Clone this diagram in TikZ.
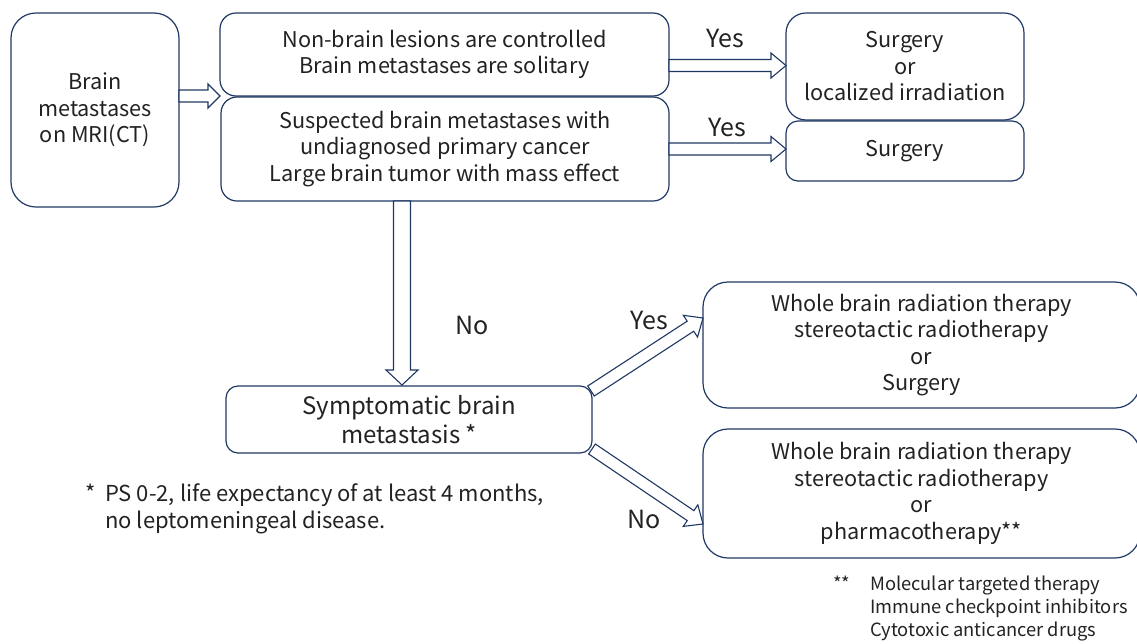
\documentclass[tikz,border=0pt]{standalone}
\usepackage{fontspec}
\setmainfont{Noto Sans CJK JP}
\usetikzlibrary{calc}
\definecolor{navy}{HTML}{1F3864}
\definecolor{txt}{HTML}{222222}
\newcommand\blockarrow[5]{%
  \coordinate (bah) at ($(#2)!#5pt!(#1)$);
  \draw[barrow] ($(#1)!#3pt!90:(#2)$) -- ($(bah)!#3pt!-90:(#1)$) -- ($(bah)!#4pt!-90:(#1)$) -- (#2)
     -- ($(bah)!#4pt!90:(#1)$) -- ($(bah)!#3pt!90:(#1)$) -- ($(#1)!#3pt!-90:(#2)$) -- cycle;}
\begin{document}
\begin{tikzpicture}[x=1pt,y=-1pt,
  box/.style={draw=navy, line width=1.2pt, rounded corners=#1, align=center, inner sep=0pt, outer sep=0pt,
    text=txt, font=\fontsize{21.7}{26.5}\selectfont},
  box/.default=16pt,
  barrow/.style={draw=navy, fill=white, line width=1.1pt, line join=miter},
  lbl/.style={text=txt, font=\fontsize{25}{28}\selectfont, inner sep=0pt},
  note/.style={text=txt, align=left, inner sep=0pt, anchor=west}]
\useasboundingbox (0,0) rectangle (1137,643);
% boxes
\node[box=25pt, minimum width=168pt, minimum height=194pt] (A) at (95,110) {Brain\\metastases\\on MRI(CT)};
\node[box=16pt, minimum width=449pt, minimum height=83pt] (B) at (444.5,54.5) {Non-brain lesions are controlled\\Brain metastases are solitary};
\node[box=16pt, minimum width=448pt, minimum height=104pt] (C) at (445,149) {Suspected brain metastases with\\undiagnosed primary cancer\\Large brain tumor with mass effect};
\node[box=20pt, minimum width=238pt, minimum height=107pt] (D) at (905,66.5) {Surgery\\or\\localized irradiation};
\node[box=12pt, minimum width=238pt, minimum height=60pt] (E) at (905,151) {Surgery};
\node[box=12pt, minimum width=366pt, minimum height=67pt, font=\fontsize{24}{29}\selectfont] (F) at (409,419.5) {Symptomatic brain\\metastasis *};
\node[box=25pt, minimum width=437pt, minimum height=126pt] (G) at (921.5,345) {Whole brain radiation therapy\\stereotactic radiotherapy\\or\\Surgery};
\node[box=25pt, minimum width=437pt, minimum height=129pt] (H) at (921.5,493.5) {Whole brain radiation therapy\\stereotactic radiotherapy\\or\\pharmacotherapy**};
% connector end points
\coordinate (ab1) at (A.east |- B.south);
\coordinate (ab2) at (B.south west);
\coordinate (bd1) at ($(B.east)+(0,11)$);
\coordinate (bd2) at (D.west |- bd1);
\coordinate (ce1) at (C.east);
\coordinate (ce2) at (E.west |- C.east);
\coordinate (cf1) at ($(C.south)+(-43,0)$);
\coordinate (cf2) at ($(F.north -| cf1)+(0,-1)$);
\coordinate (fg1) at ($(F.north east)+(-1,5)$);
\coordinate (fg2) at ($(G.west)+(0,-27)$);
\coordinate (fh1) at ($(F.south east)+(0,-4)$);
\coordinate (fh2) at ($(H.west)+(0,30.5)$);
% block arrows
\blockarrow{ab1}{ab2}{6}{12}{12}
\blockarrow{bd1}{bd2}{6}{12.5}{15}
\blockarrow{ce1}{ce2}{6}{12.5}{15}
\blockarrow{cf1}{cf2}{8.5}{16}{15}
\blockarrow{fg1}{fg2}{6}{13}{15}
\blockarrow{fh1}{fh2}{6}{13}{15}
% labels
\node[lbl] (y1) at (725,38) {Yes};
\node[lbl] (y2) at (727,127) {Yes};
\node[lbl] (n1) at (472,325) {No};
\node[lbl] (y3) at (649,320) {Yes};
\node[lbl] (n2) at (644,519) {No};
% notes
\node[note, font=\fontsize{22}{27}\selectfont] (fn1) at (105,509) {\llap{*\hspace{9pt}}PS 0-2, life expectancy of at least 4 months,\\no leptomeningeal disease.};
\node[note, font=\fontsize{18.3}{23}\selectfont] (fn2) at (870,608) {\llap{**\hspace{20pt}}Molecular targeted therapy\\Immune checkpoint inhibitors\\Cytotoxic anticancer drugs};
\end{tikzpicture}
\end{document}
